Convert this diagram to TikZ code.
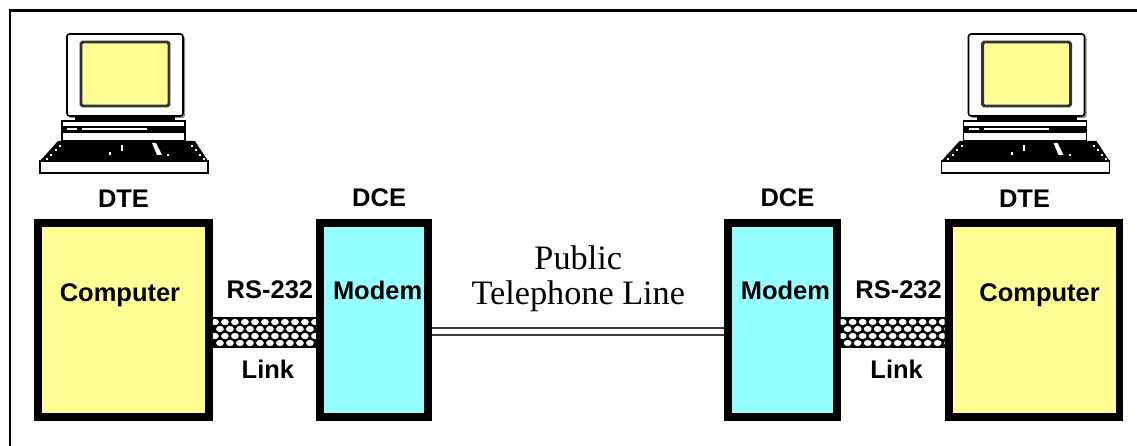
\documentclass[tikz,border=0pt]{standalone}
\usepackage{fontspec}
\setmainfont{Liberation Serif}
\setsansfont{Liberation Sans}
\usetikzlibrary{positioning, calc}
\definecolor{dteyellow}{RGB}{255,255,150}
\definecolor{dcecyan}{RGB}{150,255,255}
\definecolor{wire}{RGB}{60,60,60}
\tikzset{
  pcbox/.style={
    minimum width=3.42cm,
    minimum height=3.88cm,
    draw, line width=4.5pt, fill=dteyellow,
  },
  modembox/.style={
    minimum width=2.17cm,
    minimum height=3.88cm,
    draw, line width=4.5pt, fill=dcecyan,
  },
  tag/.style={
    inner sep=0pt,
    font=\sffamily\bfseries\fontsize{14.5}{16}\selectfont,
  },
  cable/.style={
    minimum width=#1,
    minimum height=0.62cm,
    inner sep=0pt, outer sep=0pt, fill=black,
    path picture={
      \foreach \row in {0,...,3}
        \foreach \col in {0,...,10}
          \fill[white] ([shift={({\col*10+5*mod(\row,2)+2}, {5+\row*7})}]path picture bounding box.north west)
            ellipse [x radius=3.9, y radius=3.1];
    },
  },
  phone/.style={
    draw=wire, line width=1.2pt,
    double=white, double distance=2.6pt,
  },
  terminal/.pic={
    % monitor with screen
    \fill[black!45, rounded corners=1.5pt] (-56,2) rectangle (60,84);
    \filldraw[fill=white, draw=black, line width=0.9pt, rounded corners=1.5pt] (-58,0) rectangle (58,82);
    \filldraw[fill=dteyellow, draw=black!80, line width=1.7pt, rounded corners=1pt] (-44,8) rectangle (44,72);
    % stand and drive unit
    \fill[black] (-50,82) rectangle (50,87);
    \filldraw[fill=white, draw=black, line width=0.8pt] (-63,87) rectangle (60,107);
    \fill[black] (-63,92) rectangle (60,99);
    \fill[white] (-43,94.5) rectangle (22,96.5);
    \fill[white] (-58,94.5) rectangle (-48,96.5);
    % keyboard
    \fill[black] (-67,107) -- (70,107) -- (83,127) -- (-85,127) -- cycle;
    \fill[white] (-4,111) rectangle (-2,117);
    \fill[white] (-16,118) rectangle (-14,121);
    \fill[white] (27,109) -- (31,109) -- (37,121) -- (32,121) -- cycle;
    \fill[white] (42,120) rectangle (44,122);
    \foreach \d in {0,...,3} {
      \fill[white] (-66-\d*4.5,111+\d*4.5) rectangle (-64-\d*4.5,113+\d*4.5);
      \fill[white] (66+\d*4,111+\d*4.5) rectangle (68+\d*4,113+\d*4.5);
    }
    \filldraw[fill=white, draw=black, line width=0.9pt] (-85,127) rectangle (83,139);
  },
}

\begin{document}
\begin{tikzpicture}[x=0.02cm, y=-0.02cm]
\useasboundingbox (0,0) rectangle (1137,446);
% frame
\draw[line width=1.7pt] (10,446) -- (10,10.5) -- (1137,10.5);

\pic at (125,34) {terminal};
\pic at (1026.5,34) {terminal};

\node[pcbox] (pcL) at (123.5,320) {};
\node[modembox, right=2.06cm of pcL] (modemL) {};
\node[modembox, right=5.84cm of modemL] (modemR) {};
\node[pcbox, right=2.08cm of modemR] (pcR) {};

\node[cable=2.06cm, right=0pt of pcL, yshift=-2.5mm] (linkL) {};
\node[cable=2.08cm, right=0pt of modemR, yshift=-2.5mm] (linkR) {};

\node[tag, above=2.2mm of pcL] (dteL) {DTE};
\node[tag, above=2.2mm of pcR, xshift=-1.9mm] (dteR) {DTE};
\node[tag, above=2.4mm of modemL, xshift=1mm] (dceL) {DCE};
\node[tag, above=2.4mm of modemR, xshift=1mm] (dceR) {DCE};
\node[tag, below=1.28cm of pcL.north, xshift=-0.7mm] (cpuL) {Computer};
\node[tag, below=1.28cm of pcR.north, xshift=1.1mm] (cpuR) {Computer};
\node[tag, below=1.24cm of modemL.north, xshift=0.7mm] (modL) {Modem};
\node[tag, below=1.24cm of modemR.north, xshift=0.6mm] (modR) {Modem};
\node[tag, above=3.6mm of linkL, xshift=1.1mm] (rsL) {RS-232};
\node[tag, above=3.6mm of linkR, xshift=1.2mm] (rsR) {RS-232};
\node[tag, below=2.4mm of linkL, xshift=0.7mm] (lnkL) {Link};
\node[tag, below=2.4mm of linkR, xshift=0.8mm] (lnkR) {Link};

\draw[phone] ($(modemL.east)+(0,11.5)$) -- node[midway, above=3.8mm, inner sep=0pt, align=center,
  font=\rmfamily\fontsize{19.5}{20}\selectfont] (lineLbl) {Public\\Telephone Line} ($(modemR.west)+(0,11.5)$);
\end{tikzpicture}
\end{document}
